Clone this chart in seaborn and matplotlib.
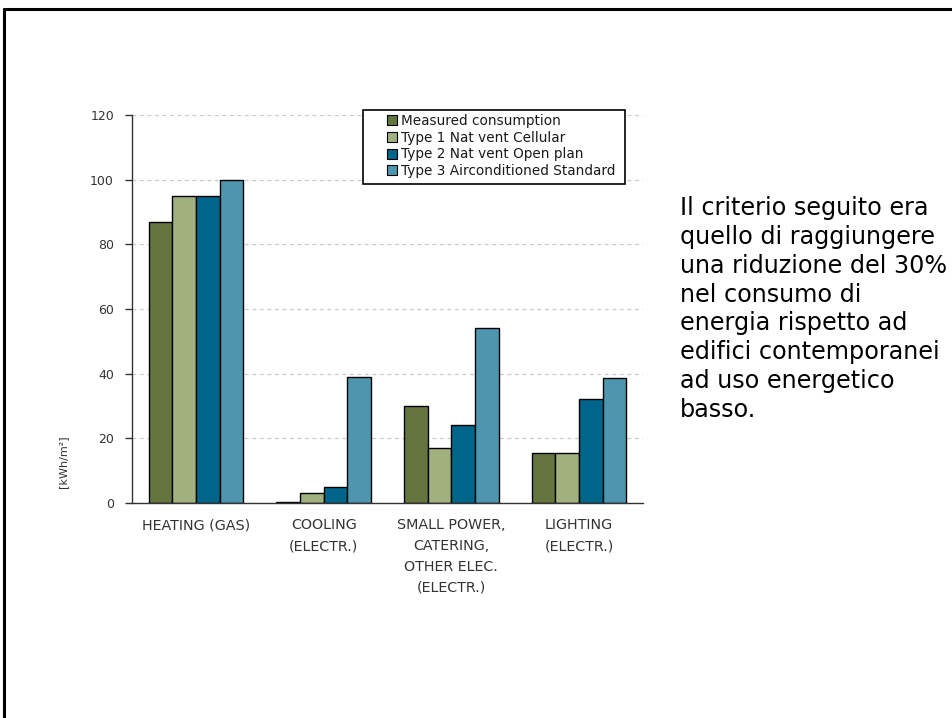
import matplotlib
matplotlib.use("Agg")
import matplotlib.pyplot as plt
from matplotlib.lines import Line2D
from matplotlib.patches import Rectangle
import seaborn as sns
import pandas as pd

# Energy use by end use, kWh per m2
categories = [
    "HEATING (GAS)",
    "COOLING\n(ELECTR.)",
    "SMALL POWER,\nCATERING,\nOTHER ELEC.\n(ELECTR.)",
    "LIGHTING\n(ELECTR.)",
]
series = [
    "Measured consumption",
    "Type 1 Nat vent Cellular",
    "Type 2 Nat vent Open plan",
    "Type 3 Airconditioned Standard",
]
measured = [87, 0.4, 30, 15.6]
type1_cellular = [95, 3, 17, 15.6]
type2_openplan = [95, 5, 24, 32.2]
type3_aircon = [100, 39, 54, 38.8]
colors = ["#64753D", "#A0B07E", "#00658A", "#4E96AF"]
yticks = [0, 20, 40, 60, 80, 100, 120]

values = [measured, type1_cellular, type2_openplan, type3_aircon]
df = pd.DataFrame(
    [(c, s, v) for s, vals in zip(series, values) for c, v in zip(categories, vals)],
    columns=["category", "series", "value"],
)

sns.set_theme(style="white")
plt.rcParams["font.family"] = ["DejaVu Sans"]

W, H = 953, 718
fig = plt.figure(figsize=(W / 100, H / 100), dpi=100)
ax_l, ax_r, ax_b, ax_t = 132, 643, 503, 115
ax = fig.add_axes([ax_l / W, 1 - ax_b / H, (ax_r - ax_l) / W, (ax_b - ax_t) / H])


def axfrac(px, py):
    return (px - ax_l) / (ax_r - ax_l), (ax_b - py) / (ax_b - ax_t)


sns.barplot(
    data=df, x="category", y="value", hue="series", order=categories,
    hue_order=series, palette=colors, saturation=1, width=0.74,
    edgecolor="black", linewidth=1.0, ax=ax, legend=True,
)

ax.set_xlim(-0.5, len(categories) - 0.5)
ax.set_ylim(0, 120)
ax.set_yticks(yticks)
ax.set_yticklabels([str(t) for t in yticks])
ax.yaxis.grid(True, linestyle=(0, (3, 3)), color="#c8c8c8", linewidth=0.9)
ax.set_axisbelow(True)

# Category labels centred under groups, tick marks at group boundaries
ax.set_xticks(range(len(categories)))
ax.set_xticklabels(categories, fontsize=10.3, color="#333333", linespacing=1.62,
                   va="top")
ax.tick_params(axis="x", which="major", length=0, pad=11)
ax.set_xticks([i - 0.5 for i in range(len(categories) + 1)], minor=True)
ax.tick_params(axis="x", which="minor", length=5, width=1, color="#333333",
               direction="out")
ax.tick_params(axis="y", length=5, width=1, color="#333333", direction="out",
               labelsize=9, labelcolor="#333333", pad=8, left=True)

for side in ["top", "right"]:
    ax.spines[side].set_visible(False)
for side in ["left", "bottom"]:
    ax.spines[side].set_color("#333333")
    ax.spines[side].set_linewidth(1.0)

ax.set_xlabel("")
ax.set_ylabel("")
fig.text(63 / W, 1 - 462 / H, "[kWh/m²]", rotation=90, fontsize=8,
         color="#333333", ha="center", va="center")

# Legend entries, with a separate box drawn around them
leg = ax.legend(
    loc="upper left", bbox_to_anchor=axfrac(387, 114),
    frameon=False, fontsize=9.8, handlelength=0.75,
    handleheight=0.75, handletextpad=0.3, labelspacing=0.2,
    borderpad=0, borderaxespad=0, title=None,
)
for h in leg.legend_handles:
    h.set_edgecolor("black")
    h.set_linewidth(0.8)
for t in leg.get_texts():
    t.set_color("#1a1a1a")
x0, y0 = axfrac(363, 184)
x1, y1 = axfrac(625, 110)
ax.add_patch(Rectangle((x0, y0), x1 - x0, y1 - y0, transform=ax.transAxes,
                       facecolor="white", edgecolor="black", linewidth=1.2,
                       clip_on=False, zorder=4))
leg.set_zorder(5)

fig.text(680 / W, 1 - 196 / H,
         "Il criterio seguito era\nquello di raggiungere\nuna riduzione del 30%\n"
         "nel consumo di\nenergia rispetto ad\nedifici contemporanei\n"
         "ad uso energetico\nbasso.",
         fontsize=17.2, family="DejaVu Sans", color="black", ha="left",
         va="top", linespacing=1.255)

# Page frame
fig.add_artist(Line2D([4 / W, 1], [1 - 8.5 / H, 1 - 8.5 / H], color="black",
                      linewidth=2.2, transform=fig.transFigure))
fig.add_artist(Line2D([4 / W, 4 / W], [0, 1 - 8.5 / H], color="black",
                      linewidth=2.2, transform=fig.transFigure))

fig.savefig("out.png", dpi=100, facecolor="white")
